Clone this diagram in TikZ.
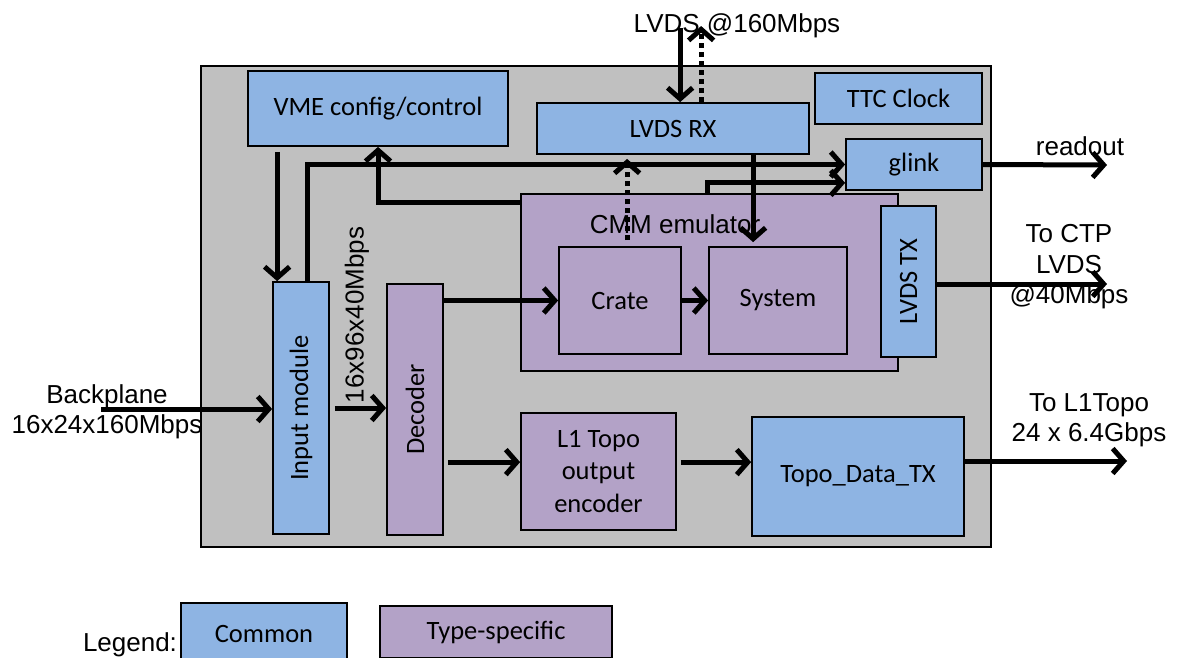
\documentclass[tikz,border=0pt]{standalone}
\usepackage{fontspec}
\setmainfont{Carlito}
\newfontfamily\arialfont{Liberation Sans}
\usetikzlibrary{arrows.meta,calc}
\definecolor{commonblue}{HTML}{8EB4E3}
\definecolor{typepurple}{HTML}{B3A2C7}
\definecolor{boardgray}{HTML}{C0C0C0}

\begin{document}
\begin{tikzpicture}[x=1pt,y=-1pt,
  box/.style={draw=black, line width=1.8pt, inner sep=0pt, align=center,
    font=\fontsize{26.5}{32.5}\selectfont},
  common/.style={box, fill=commonblue},
  typespec/.style={box, fill=typepurple},
  lbl/.style={font=\arialfont\fontsize{26}{30.5}\selectfont, align=center, inner sep=0pt},
  arr/.style={line width=5pt, -{Straight Barb[length=11pt,width=25pt]}},
  dotarr/.style={arr, dash pattern=on 5pt off 4pt}
]
\useasboundingbox (0,0) rectangle (1177,657);

% board outline
\node[box, fill=boardgray, line width=2pt, minimum width=790pt, minimum height=481pt] (board) at (596,306.5) {};

% functional blocks
\node[common, minimum width=260pt, minimum height=75pt] (vme) at (378,108.5) {VME config/control};
\node[common, minimum width=272pt, minimum height=51pt] (lvdsrx) at (673,128.5) {LVDS RX};
\node[common, minimum width=167pt, minimum height=51pt] (ttc) at (898.5,98.5) {TTC Clock};
\node[common, minimum width=136pt, minimum height=51pt] (glink) at (914,164.5) {glink};
\node[typespec, minimum width=377pt, minimum height=177pt] (cmm) at (709.5,282.5) {};
\node[typespec, minimum width=122pt, minimum height=107pt] (crate) at (620,300.5) {Crate};
\node[typespec, minimum width=138pt, minimum height=107pt] (system) at (778,300.5) {System};
\node[common, minimum width=55pt, minimum height=151pt] (lvdstx) at (908.5,281.5) {\rotatebox{90}{LVDS TX}};
\node[common, minimum width=56pt, minimum height=252pt] (input) at (301,408) {\rotatebox{90}{Input module}};
\node[typespec, minimum width=56pt, minimum height=251pt] (decoder) at (415,409.5) {\rotatebox{90}{Decoder}};
\node[typespec, minimum width=155pt, minimum height=117pt] (l1topo) at (598.5,471.5) {L1 Topo\\output\\encoder};
\node[common, minimum width=212pt, minimum height=119pt] (topotx) at (858,476.5) {Topo\_Data\_TX};

% text labels
\node[lbl] (cmmlbl) at (675,224) {CMM emulator};
\node[lbl] (lvdslbl) at (737,26) {LVDS @160Mbps};
\node[lbl] (bplbl) at (107,412) {Backplane\\16x24x160Mbps};
\node[lbl, rotate=90] (ratelbl) at (357,315) {16x96x40Mbps};
\node[lbl] (rolbl) at (1080,146) {readout};
\node[lbl] (ctplbl) at (1069,267) {To CTP\\LVDS\\@40Mbps};
\node[lbl] (l1lbl) at (1089,420) {To L1Topo\\24 x 6.4Gbps};

% helper points on block edges
\coordinate (vmeDown) at ($(input.north west)+(5,0)$);
\coordinate (inUp) at ($(input.north west)+(35,0)$);
\coordinate (cmmOut) at ($(cmm.north west)+(0,9)$);
\coordinate (cmmUp) at ($(cmm.north west)+(187,0)$);
\coordinate (glinkLow) at ($(glink.south west)+(0,-8)$);
\coordinate (rxDown) at ($(system.north west)+(45,0)$);
\coordinate (crateUp) at ($(crate.north west)+(69,0)$);
\coordinate (rxIn) at ($(lvdsrx.north west)+(144,0)$);
\coordinate (rxOut) at ($(lvdsrx.north west)+(165,0)$);
\coordinate (topoRow) at ($(l1topo.north west)+(0,50)$);
\coordinate (bpIn) at (101,409);
\coordinate (l1out) at (1127,461);
\coordinate (ctpout) at (1107,284);
\coordinate (roout) at (1107,165);

% connectors
\draw[arr, shorten <=5pt] (vmeDown |- vme.south) -- (vmeDown);
\draw[arr] (inUp) |- (glink.west);
\draw[arr] (cmmOut) -| (vme.south);
\draw[arr] (cmmUp) |- (glinkLow);
\draw[arr, shorten >=4pt] (rxDown |- lvdsrx.south) -- (rxDown);
\draw[dotarr, shorten <=6pt, shorten >=4pt] (crateUp) -- (crateUp |- lvdsrx.south);
\draw[arr, shorten <=2pt] (rxIn |- lvdslbl.center) -- (rxIn);
\draw[dotarr] (rxOut) -- (rxOut |- lvdslbl.center);
\draw[arr] (bpIn) -- (bpIn -| input.west);
\draw[arr, shorten <=5pt] (input.east) -- (input.east -| decoder.west);
\draw[arr] (crate.west -| decoder.east) -- (crate.west);
\draw[arr] (crate.east) -- (system.west);
\draw[arr, shorten <=4pt] (topoRow -| decoder.east) -- (topoRow);
\draw[arr, shorten <=4pt] (topoRow -| l1topo.east) -- (topoRow -| topotx.west);
\draw[arr] (l1out -| topotx.east) -- (l1out);
\draw[arr] (ctpout -| lvdstx.east) -- (ctpout);
\draw[arr] (glink.east) -- (roout);

% legend
\node[lbl] (leglbl) at (130,645) {Legend:};
\node[common, minimum width=166pt, minimum height=62pt] (legc) at (264,634) {Common};
\node[typespec, minimum width=232pt, minimum height=52pt] (legt) at (496,632) {Type-specific};
\end{tikzpicture}
\end{document}
